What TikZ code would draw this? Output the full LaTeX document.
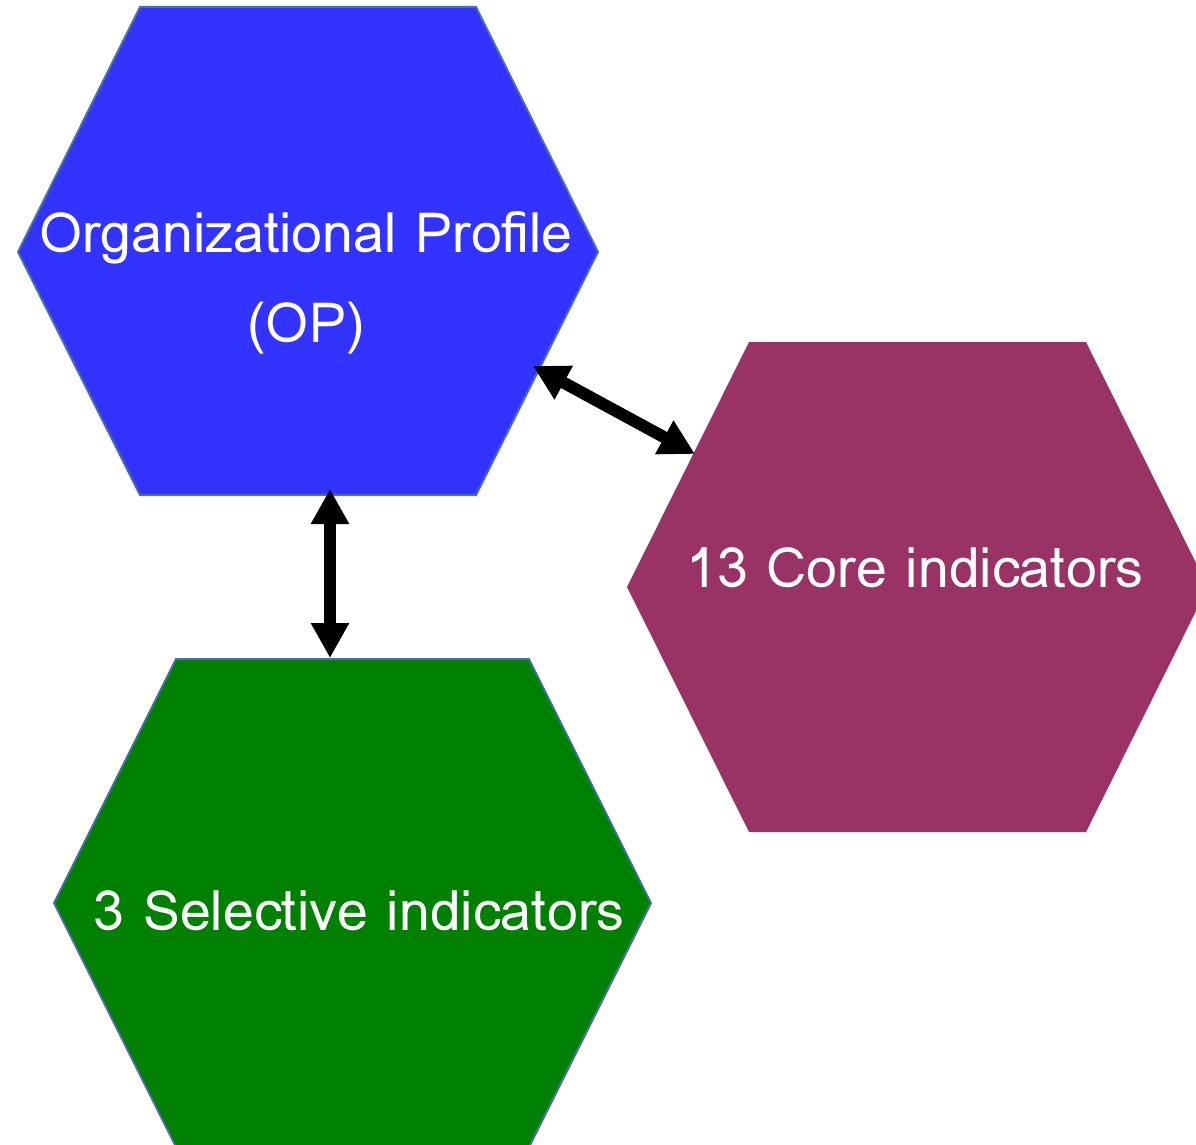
\documentclass[tikz,border=0pt]{standalone}
\usepackage{fontspec}
\newfontfamily\lomafont{Loma}
\usetikzlibrary{arrows.meta}
\definecolor{opblue}{HTML}{3333FF}
\definecolor{corepurple}{HTML}{993366}
\definecolor{selgreen}{HTML}{008000}
\definecolor{hexline}{HTML}{4A6FA5}

\begin{document}
\begin{tikzpicture}[x=1pt,y=-1pt,
	hexa/.style={draw=hexline, line width=2pt},
	hexlabel/.style={text=white, font=\lomafont\fontsize{55.5}{90}\selectfont, align=center, inner sep=0pt, anchor=base},
	bothways/.style={{Triangle[length=35pt,width=36pt]}-{Triangle[length=35pt,width=36pt]}, line width=12pt}]
	\useasboundingbox (0,0) rectangle (1196,1145);
	\begin{scope}
		\clip (0,0) rectangle (1196,1145);
		\filldraw[hexa, fill=opblue] (140,7) -- (476,7) -- (598,252) -- (476,495) -- (140,495) -- (18,252) -- cycle;
		\fill[corepurple] (749,342) -- (1086,342) -- (1208,587) -- (1086,832) -- (749,832) -- (627,587) -- cycle;
		\filldraw[hexa, fill=selgreen] (176,659) -- (529,659) -- (651,903) -- (529,1147) -- (176,1147) -- (54,903) -- cycle;
	\end{scope}
	\node[hexlabel] (op) at (306,342) {Organizational Profile\\(OP)};
	\node[hexlabel] (core) at (915,587) {13 Core indicators};
	\node[hexlabel] (sel) at (359,930) {3 Selective indicators};
	% arrow ends on the hexagon edges
	\coordinate (op-s) at (330,489);
	\coordinate (op-se) at (533,366);
	\coordinate (core-w) at (695,454);
	\coordinate (sel-n) at (330,658);
	\draw[bothways] (op-s) -- (sel-n);
	\draw[bothways] (op-se) -- (core-w);
\end{tikzpicture}
\end{document}
